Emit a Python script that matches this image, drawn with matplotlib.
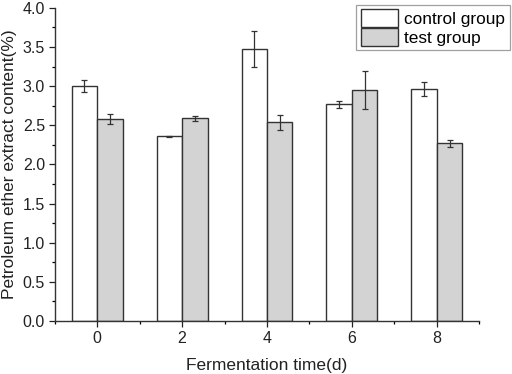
import numpy as np
import matplotlib.pyplot as plt
from matplotlib.ticker import MultipleLocator

plt.rcParams['font.family'] = ['Liberation Sans', 'DejaVu Sans']

days = [0, 2, 4, 6, 8]
control = [3.00, 2.36, 3.48, 2.77, 2.96]
control_err = [0.08, 0.005, 0.23, 0.045, 0.09]
test = [2.58, 2.59, 2.54, 2.95, 2.27]
test_err = [0.065, 0.03, 0.095, 0.24, 0.045]

fig = plt.figure(figsize=(5.12, 3.74), dpi=100)
ax = fig.add_axes([0.107, 0.142, 0.829, 0.837])

x = np.array(days)
w = 0.6
ekw = dict(ecolor='#333333', elinewidth=0.9, capsize=2.5, capthick=0.9)
ax.bar(x - w/2, control, w, yerr=control_err, color='white', edgecolor='#333333',
       linewidth=1.0, label='control group', error_kw=ekw)
ax.bar(x + w/2, test, w, yerr=test_err, color='#d3d3d3', edgecolor='#333333',
       linewidth=1.0, label='test group', error_kw=ekw)

ax.set_xlim(-1, 9)
ax.set_ylim(0, 4.0)
ax.set_xticks(days)
ax.xaxis.set_minor_locator(MultipleLocator(1))
ax.yaxis.set_major_locator(MultipleLocator(0.5))
ax.yaxis.set_minor_locator(MultipleLocator(0.25))
ax.yaxis.set_major_formatter(plt.FormatStrFormatter('%.1f'))
ax.tick_params(which='major', direction='out', length=4, width=0.9, labelsize=11.5,
               colors='#222222', pad=3)
ax.tick_params(which='minor', direction='out', length=2.5, width=0.9)

for s in ['top', 'right']:
    ax.spines[s].set_visible(False)
for s in ['left', 'bottom']:
    ax.spines[s].set_linewidth(1.0)
    ax.spines[s].set_color('#333333')

ax.set_xlabel('Fermentation time(d)', fontsize=12.5, color='#222222', labelpad=9)
ax.set_ylabel('Petroleum ether extract content(%)', fontsize=12.5, color='#222222', labelpad=4)

leg = ax.legend(loc='upper right', bbox_to_anchor=(1.072, 1.01), fontsize=12.4,
                frameon=True, fancybox=False, handlelength=2.2, handleheight=1.2,
                handletextpad=0.35, borderpad=0.25, labelspacing=0.08, borderaxespad=0)
leg.get_frame().set_edgecolor('#888888')
leg.get_frame().set_linewidth(0.9)

fig.savefig('out.png', dpi=100)
